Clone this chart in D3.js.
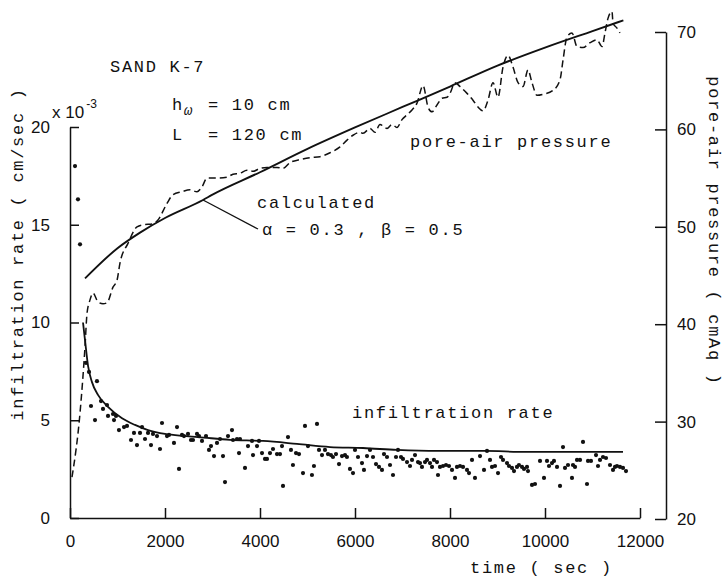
<!DOCTYPE html>
<html>
<head>
<meta charset="utf-8">
<script src="https://cdn.jsdelivr.net/npm/d3@7"></script>
<style>
  body { margin: 0; background: #fff; }
  svg { display: block; }
  .mono { font-family: "Liberation Mono", "DejaVu Sans Mono", monospace; font-size: 17px; letter-spacing: 1.7px; fill: #111; }
  .axis text { font-family: "Liberation Sans", Arial, sans-serif; font-size: 17px; fill: #111; }
  .axis path, .axis line { stroke: #111; stroke-width: 1.5; }
</style>
</head>
<body>
<div id="chart"></div>
<script>
// time in sec, infiltration rate in 1e-3 cm/sec, pressure in cmAq
const infilTime = [
  105, 168, 211, 337, 400, 568, 442, 526, 653, 695,
  779, 800, 905, 926, 968, 1031, 1137, 1200, 1284, 1347,
  1410, 1474, 1516, 1579, 1642, 1705, 1747, 1832, 1895, 1937,
  2042, 2084, 2189, 2253, 2295, 2358, 2400, 2484, 2547, 2589,
  2674, 2716, 2779, 2863, 2926, 2968, 3032, 3095, 3158, 3221,
  3263, 3326, 3410, 3432, 3516, 3579, 3558, 3684, 3747, 3832,
  3853, 3937, 3979, 4042, 4105, 4147, 4210, 4274, 4358, 4421,
  4463, 4484, 4589, 4652, 4694, 4758, 4821, 4905, 4947, 5010,
  5094, 5136, 5200, 5242, 5305, 5368, 5431, 5494, 5536, 5600,
  5663, 5726, 5789, 5831, 5894, 5958, 6000, 6063, 6147, 6189,
  6253, 6316, 6379, 6442, 6505, 6568, 6610, 6674, 6737, 6800,
  6863, 6905, 6968, 7010, 7095, 7158, 7200, 7263, 7326, 7368,
  7410, 7474, 7516, 7579, 7621, 7663, 7726, 7747, 7789, 7853,
  7916, 7979, 8042, 8105, 8147, 8211, 8274, 8358, 8400, 8463,
  8526, 8632, 8716, 8779, 8842, 8884, 8947, 9011, 9074, 9116,
  9200, 9242, 9305, 9347, 9410, 9452, 9516, 9558, 9621, 9642,
  9726, 9789, 9895, 9979, 10042, 10084, 10147, 10189, 10253, 10316,
  10379, 10421, 10484, 10568, 10589, 10632, 10674, 10737, 10800, 10884,
  10905, 10968, 11074, 11116, 11158, 11221, 11284, 11368, 11432, 11474,
  11516, 11579, 11642, 11705
];
const infilRate = [
  18.0, 16.3, 14.0, 7.93, 7.47, 7.0, 5.73, 5.01, 5.98, 5.58,
  5.78, 5.22, 5.32, 5.01, 5.22, 4.50, 4.65, 4.71, 3.99, 4.35,
  3.73, 4.35, 4.65, 4.04, 4.35, 3.73, 4.30, 4.19, 3.53, 4.86,
  4.19, 4.25, 3.84, 4.65, 2.51, 4.25, 4.19, 4.30, 3.99, 3.99,
  4.30, 4.19, 3.94, 4.19, 3.48, 3.68, 3.17, 3.84, 4.04, 3.17,
  1.84, 4.19, 4.50, 3.99, 4.04, 4.04, 3.32, 2.56, 3.68, 3.94,
  3.22, 3.68, 3.94, 3.32, 3.02, 3.02, 3.32, 3.53, 3.27, 3.27,
  3.68, 1.64, 4.14, 3.48, 2.71, 3.32, 3.27, 2.30, 4.71, 3.68,
  2.20, 2.66, 4.81, 3.48, 3.22, 3.48, 3.27, 3.22, 3.12, 3.27,
  2.76, 3.17, 3.22, 3.12, 2.51, 2.30, 3.48, 3.12, 2.81, 2.46,
  3.17, 3.48, 3.12, 2.76, 2.61, 2.46, 3.27, 3.12, 2.71, 2.20,
  3.12, 3.48, 3.12, 3.02, 2.86, 2.66, 2.97, 3.22, 2.86, 2.81,
  2.61, 2.86, 2.97, 2.81, 2.61, 2.97, 2.86, 2.20, 2.61, 2.66,
  2.71, 2.66, 2.46, 2.05, 2.61, 2.66, 2.61, 2.46, 2.30, 2.97,
  2.05, 3.17, 2.46, 3.43, 2.97, 2.61, 2.66, 2.30, 3.12, 2.97,
  2.81, 2.66, 2.56, 2.40, 2.61, 2.71, 2.61, 2.51, 2.61, 2.40,
  1.69, 1.74, 2.92, 2.05, 2.92, 2.66, 2.81, 2.92, 2.61, 1.64,
  3.63, 2.56, 2.71, 2.05, 2.71, 2.61, 2.97, 2.97, 3.89, 1.74,
  2.92, 2.92, 3.22, 2.66, 2.97, 3.12, 3.07, 2.71, 2.46, 2.61,
  2.66, 2.61, 2.56, 2.40
];

const calcInfilTime = [274, 316, 379, 463, 589, 800, 1095, 1368, 1642, 2000, 2358, 2695, 3368, 4063, 4779, 5474, 6168, 6884, 7747, 8737, 9579, 11642];
const calcInfil = [10.0, 9.1, 7.8, 6.95, 6.3, 5.68, 5.1, 4.76, 4.5, 4.3, 4.2, 4.14, 4.0, 3.94, 3.79, 3.63, 3.58, 3.48, 3.43, 3.43, 3.38, 3.38];

const calcPresTime = [316, 1000, 1474, 2000, 2800, 3000, 4000, 5000, 6000, 7000, 8000, 9000, 10000, 11000, 11650];
const calcPres = [44.7, 47.8, 49.4, 50.9, 52.75, 53.3, 55.6, 58.0, 60.2, 62.3, 64.4, 66.55, 68.4, 70.1, 71.2];

const presTime = [
  42, 211, 316, 358, 421, 484, 589, 695, 779, 905,
  989, 1053, 1221, 1411, 1537, 1747, 1853, 2042, 2168, 2358,
  2526, 2674, 2779, 2884, 3095, 3305, 3432, 3579, 3726, 3853,
  4000, 4147, 4358, 4484, 4632, 4842, 5053, 5263, 5474, 5684,
  5832, 5958, 6105, 6168, 6316, 6421, 6526, 6674, 6779, 6884,
  6989, 7095, 7200, 7305, 7432, 7537, 7621, 7726, 7832, 7937,
  8000, 8105, 8211, 8358, 8484, 8589, 8695, 8800, 8905, 9011,
  9116, 9221, 9326, 9432, 9537, 9642, 9726, 9832, 9958, 10168,
  10316, 10379, 10463, 10568, 10674, 10800, 10947, 11095, 11200, 11263,
  11326, 11411, 11432, 11516, 11579
];
const presValue = [
  24.3, 30.9, 37.7, 41.1, 42.5, 43.2, 42.3, 42.1, 42.2, 43.8,
  44.5, 46.3, 48.3, 50.0, 50.2, 50.3, 50.7, 52.4, 53.3, 53.6,
  53.8, 53.6, 54.1, 55.0, 55.0, 55.1, 55.4, 55.5, 55.8, 55.7,
  56.0, 56.1, 56.1, 56.0, 56.6, 56.9, 57.1, 57.2, 57.6, 58.2,
  58.9, 59.4, 59.7, 59.6, 60.1, 59.7, 60.5, 60.1, 60.5, 60.2,
  61.0, 61.5, 62.0, 62.7, 64.5, 62.3, 61.8, 62.5, 63.2, 63.3,
  63.7, 64.8, 64.4, 63.7, 63.0, 62.3, 61.9, 63.0, 64.8, 63.3,
  66.4, 67.6, 66.4, 64.8, 64.4, 66.1, 64.8, 63.5, 63.6, 64.0,
  65.1, 67.1, 69.5, 69.9, 68.5, 68.4, 68.9, 69.2, 68.5, 69.9,
  71.4, 72.1, 70.9, 70.4, 69.9
];

const xTicks = [0, 2000, 4000, 6000, 8000, 10000, 12000];
const leftTicks = [0, 5, 10, 15, 20];
const rightTicks = [20, 30, 40, 50, 60, 70];

const width = 727, height = 578;
const svg = d3.select('#chart').append('svg')
  .attr('width', width)
  .attr('height', height);

// scales
const x = d3.scaleLinear().domain([0, 12000]).range([70, 640]);
const yL = d3.scaleLinear().domain([0, 20]).range([518, 127]);
const yR = d3.scaleLinear().domain([20, 70]).range([519, 32]);

// axes, ticks point inward
svg.append('g')
  .attr('class', 'axis')
  .attr('transform', 'translate(0,518)')
  .call(d3.axisBottom(x).tickValues(xTicks).tickSizeInner(-10).tickSizeOuter(0).tickPadding(17).tickFormat(d3.format('d')));

svg.append('g')
  .attr('class', 'axis')
  .attr('transform', 'translate(70,0)')
  .call(d3.axisLeft(yL).tickValues(leftTicks).tickSizeInner(-9).tickSizeOuter(0).tickPadding(20));

svg.append('g')
  .attr('class', 'axis')
  .attr('transform', 'translate(666,0)')
  .call(d3.axisRight(yR).tickValues(rightTicks).tickSizeInner(-11).tickSizeOuter(0).tickPadding(11));

// infiltration rate dots
svg.append('g')
  .selectAll('circle')
  .data(d3.zip(infilTime, infilRate))
  .enter()
  .append('circle')
  .attr('cx', d => x(d[0]))
  .attr('cy', d => yL(d[1]))
  .attr('r', 2.1)
  .attr('fill', '#111');

// calculated infiltration curve
const infilLine = d3.line()
  .x(d => x(d[0]))
  .y(d => yL(d[1]))
  .curve(d3.curveMonotoneX);
svg.append('path')
  .datum(d3.zip(calcInfilTime, calcInfil))
  .attr('d', infilLine)
  .attr('fill', 'none')
  .attr('stroke', '#111')
  .attr('stroke-width', 1.8);

// pressure lines (right axis)
const presLine = d3.line()
  .x(d => x(d[0]))
  .y(d => yR(d[1]))
  .curve(d3.curveMonotoneX);
svg.append('path')
  .datum(d3.zip(calcPresTime, calcPres))
  .attr('d', presLine)
  .attr('fill', 'none')
  .attr('stroke', '#111')
  .attr('stroke-width', 1.9);

svg.append('path')
  .datum(d3.zip(presTime, presValue))
  .attr('d', presLine)
  .attr('fill', 'none')
  .attr('stroke', '#111')
  .attr('stroke-width', 1.5)
  .attr('stroke-dasharray', '7,4');

// leader from calculated curve to its label
svg.append('line')
  .attr('x1', x(2800)).attr('y1', yR(52.75))
  .attr('x2', 258).attr('y2', 229)
  .attr('stroke', '#111')
  .attr('stroke-width', 1.3);

// texts
const label = (tx, ty, s) => svg.append('text').attr('class', 'mono').attr('x', tx).attr('y', ty).text(s);
label(110, 72, 'SAND K-7');
const hw = svg.append('text').attr('class', 'mono').attr('x', 172).attr('y', 110);
hw.append('tspan').text('h');
hw.append('tspan').attr('dy', 5).attr('font-size', 14).attr('font-style', 'italic').text('ω');
hw.append('tspan').attr('x', 208).attr('dy', -5).text('= 10 cm');
const lt = svg.append('text').attr('class', 'mono').attr('x', 172).attr('y', 140);
lt.append('tspan').text('L');
lt.append('tspan').attr('x', 208).text('= 120 cm');
label(257, 208, 'calculated');
label(262, 235, 'α = 0.3 , β = 0.5');
label(410, 147, 'pore-air pressure');
label(352, 418, 'infiltration rate');
label(470, 573, 'time ( sec )');

const sci = svg.append('text')
  .attr('x', 52).attr('y', 118)
  .attr('font-family', '"Liberation Sans", Arial, sans-serif')
  .attr('font-size', 17)
  .attr('fill', '#111');
sci.append('tspan').text('x 10');
sci.append('tspan').attr('dx', 2).attr('dy', -10).attr('font-size', 12).text('-3');

svg.append('text')
  .attr('class', 'mono')
  .attr('transform', 'translate(23,254) rotate(-90)')
  .attr('text-anchor', 'middle')
  .text('infiltration rate ( cm/sec )');

svg.append('text')
  .attr('class', 'mono')
  .attr('transform', 'translate(709,231) rotate(90)')
  .attr('text-anchor', 'middle')
  .text('pore-air pressure ( cmAq )');
</script>
</body>
</html>
